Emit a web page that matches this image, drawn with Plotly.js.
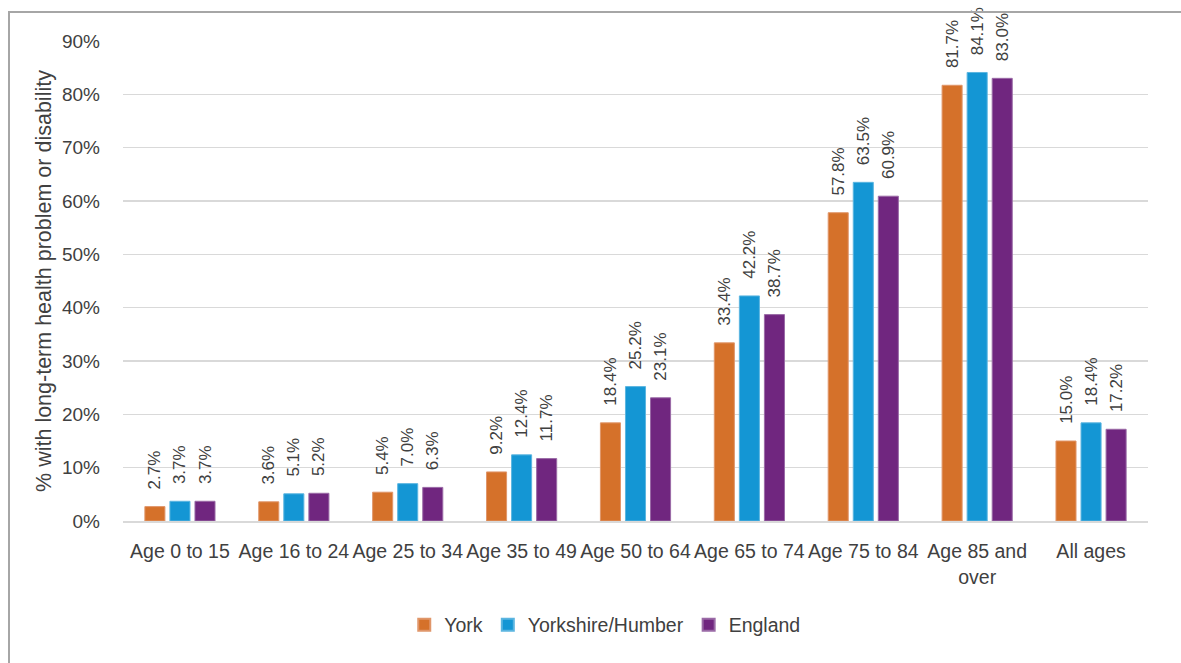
<!DOCTYPE html>
<html>
<head>
<meta charset="utf-8">
<script src="https://cdn.plot.ly/plotly-3.0.1.min.js"></script>
<style>
  html, body { margin: 0; padding: 0; background: #fff; }
  #chart { width: 1181px; height: 663px; }
  #frame { position: absolute; left: 8px; top: 11px; width: 1200px; height: 700px;
           border-left: 2px solid #a6a6a6; border-top: 2px solid #a6a6a6; pointer-events: none; }
</style>
</head>
<body>
<div id="chart"></div>
<div id="frame"></div>
<script>
const categories = ["Age 0 to 15", "Age 16 to 24", "Age 25 to 34", "Age 35 to 49", "Age 50 to 64",
                    "Age 65 to 74", "Age 75 to 84", "Age 85 and<br>over", "All ages"];
const york      = [2.7, 3.6, 5.4, 9.2, 18.4, 33.4, 57.8, 81.7, 15.0];
const yorkshire = [3.7, 5.1, 7.0, 12.4, 25.2, 42.2, 63.5, 84.1, 18.4];
const england   = [3.7, 5.2, 6.3, 11.7, 23.1, 38.7, 60.9, 83.0, 17.2];
const seriesNames = ["York", "Yorkshire/Humber", "England"];
const colors = ["#D5712A", "#1496D4", "#70267F"];
const edgeColors = ["#E0966A", "#5BB5E0", "#9A6AA6"];
const yTicks = [0, 10, 20, 30, 40, 50, 60, 70, 80, 90];

const FONT = "'Liberation Sans', Arial, sans-serif";
const PAD = "\u00A0\u00A0\u00A0";

const traces = [york, yorkshire, england].map((vals, i) => ({
  type: "bar",
  name: seriesNames[i],
  x: categories,
  y: vals,
  text: vals.map(v => PAD + v.toFixed(1) + "%"),
  textposition: "outside",
  textangle: -90,
  constraintext: "none",
  cliponaxis: false,
  textfont: { family: FONT, size: 17, color: "#404040" },
  marker: { color: colors[i], line: { color: edgeColors[i], width: 1 } },
  hoverinfo: "skip"
}));

const layout = {
  width: 1181,
  height: 663,
  margin: { l: 123, r: 33, t: 41, b: 142 },
  paper_bgcolor: "#ffffff",
  plot_bgcolor: "#ffffff",
  barmode: "group",
  bargap: 0.34,
  bargroupgap: 0.2,
  font: { family: FONT, size: 19, color: "#404040" },
  showlegend: true,
  legend: {
    orientation: "h",
    x: 0.47, xanchor: "center",
    y: -0.176, yanchor: "top",
    font: { family: FONT, size: 19.5, color: "#404040" },
    itemsizing: "constant",
    traceorder: "normal"
  },
  xaxis: {
    type: "category",
    tickfont: { family: FONT, size: 19.5, color: "#404040" },
    tickangle: 0,
    ticklabelstandoff: 12,
    showline: true,
    linecolor: "#d9d9d9",
    linewidth: 2,
    ticks: "",
    showgrid: false,
    fixedrange: true
  },
  yaxis: {
    range: [0, 90],
    tickvals: yTicks,
    ticktext: yTicks.map(v => v + "%"),
    tickfont: { family: FONT, size: 19, color: "#404040" },
    ticks: "",
    ticklabelstandoff: 22,
    showgrid: true,
    gridcolor: "#d9d9d9",
    gridwidth: 1.5,
    zeroline: false,
    title: {
      text: "% with long-term health problem or disability",
      font: { family: FONT, size: 21.5, color: "#404040" },
      standoff: 4
    },
    fixedrange: true
  }
};

Plotly.newPlot("chart", traces, layout, { displayModeBar: false, staticPlot: true });
</script>
</body>
</html>
